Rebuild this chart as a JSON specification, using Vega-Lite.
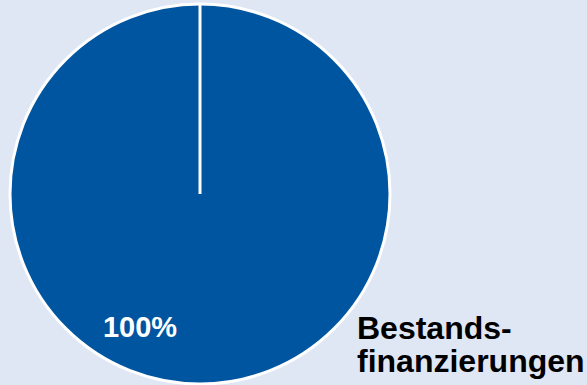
{
  "$schema": "https://vega.github.io/schema/vega-lite/v6.json",
  "width": 380,
  "height": 380,
  "autosize": {"type": "none"},
  "padding": {"left": 10, "top": 4, "right": 197, "bottom": 1},
  "background": "#dfe6f4",
  "config": {"view": {"stroke": null}, "font": "Liberation Sans"},
  "data": {
    "values": [
      {"category": "Bestands-\nfinanzierungen", "value": 100, "label": "100%"},
      {"category": "", "value": 0, "label": ""}
    ]
  },
  "encoding": {"theta": {"field": "value", "type": "quantitative", "stack": true}},
  "layer": [
    {"mark": {"type": "arc", "fill": "#0055a0", "stroke": "white", "strokeWidth": 3}},
    {
      "transform": [{"filter": "datum.value > 0"}],
      "mark": {"type": "text", "radius": 143, "dx": -60, "fontSize": 29, "fontWeight": "bold", "fill": "white", "baseline": "alphabetic", "align": "center"},
      "encoding": {"text": {"field": "label"}}
    },
    {
      "transform": [{"filter": "datum.value > 0"}],
      "mark": {"type": "text", "radius": 120, "dx": 157, "align": "left", "baseline": "top", "fontSize": 32, "fontWeight": "bold", "fill": "black", "lineBreak": "\n", "lineHeight": 33},
      "encoding": {"text": {"field": "category"}}
    }
  ]
}
